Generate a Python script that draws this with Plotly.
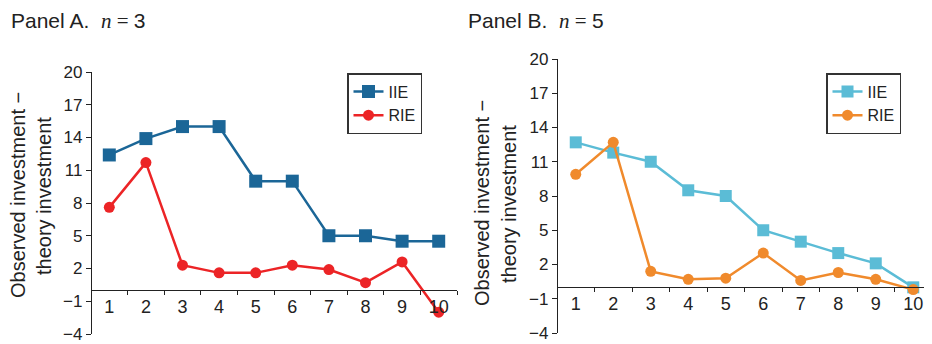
import plotly.graph_objects as go

rounds = [1, 2, 3, 4, 5, 6, 7, 8, 9, 10]

a_iie = [12.4, 13.9, 15.0, 15.0, 10.0, 10.0, 5.0, 5.0, 4.5, 4.5]
a_rie = [7.6, 11.7, 2.3, 1.6, 1.6, 2.3, 1.9, 0.7, 2.6, -2.0]
b_iie = [12.7, 11.8, 11.0, 8.5, 8.0, 5.0, 4.0, 3.0, 2.1, 0.0]
b_rie = [9.9, 12.7, 1.4, 0.7, 0.8, 3.0, 0.6, 1.3, 0.7, -0.2]

y_ticks = [-4, -1, 2, 5, 8, 11, 14, 17, 20]
y_ticktext = ["\u22124", "\u22121", "2", "5", "8", "11", "14", "17", "20"]
x_minor = [1.5, 2.5, 3.5, 4.5, 5.5, 6.5, 7.5, 8.5, 9.5, 10.5]

# page body has an 8px margin; figure sized to fit the 932x344 window
OFF = 8
W, H = 932 - OFF, 344 - OFF
FONT = "Liberation Sans, Arial, Helvetica, sans-serif"
INK = "#222222"

def PX(p):
    return (p - OFF) / W

def PY(p):
    return 1 - (p - OFF) / H

c_a_iie = "#1b6697"
c_a_rie = "#ec2426"
c_b_iie = "#5bbcd6"
c_b_rie = "#f08a2c"

fig = go.Figure()

def add(x, y, name, color, symbol, size, xa, ya, legend):
    fig.add_trace(go.Scatter(
        x=x, y=y, name=name, mode="lines+markers",
        line=dict(color=color, width=2.5),
        marker=dict(color=color, symbol=symbol, size=size),
        xaxis=xa, yaxis=ya, legend=legend, cliponaxis=False,
    ))

add(rounds, a_iie, "IIE", c_a_iie, "square", 13, "x", "y", "legend")
add(rounds, a_rie, "RIE", c_a_rie, "circle", 11, "x", "y", "legend")
add(rounds, b_iie, "IIE", c_b_iie, "square", 12, "x2", "y2", "legend2")
add(rounds, b_rie, "RIE", c_b_rie, "circle", 11, "x2", "y2", "legend2")

# domains (reference pixel based)
ya_dom = [PY(334), PY(72)]
yb_dom = [PY(333), PY(59)]
xa_dom = [PX(91), PX(457)]
xb_dom = [PX(557), 1.0]
yr = [-4, 20]
frac0 = (0 - yr[0]) / (yr[1] - yr[0])

def yaxis(dom, xpos):
    return dict(
        domain=dom, range=yr, anchor="free", position=xpos, automargin=False,
        tickmode="array", tickvals=y_ticks, ticktext=y_ticktext,
        ticks="outside", ticklen=5, tickwidth=1.2, tickcolor=INK,
        showline=True, linecolor=INK, linewidth=1.3,
        showgrid=False, zeroline=False, ticklabeloverflow="allow",
        tickfont=dict(size=17, color=INK, family=FONT),
    )

def xaxis(dom, ydom):
    return dict(
        domain=dom, range=[0.5, 10.5], anchor="free", automargin=False,
        position=ydom[0] + (ydom[1] - ydom[0]) * frac0,
        tickmode="array", tickvals=rounds,
        ticks="", ticklabeloverflow="allow",
        minor=dict(tickmode="array", tickvals=x_minor, ticks="outside",
                   ticklen=4, tickwidth=1.2, tickcolor=INK, showgrid=False),
        showline=True, linecolor=INK, linewidth=1.3,
        showgrid=False, zeroline=False,
        tickfont=dict(size=18, color=INK, family=FONT),
    )

legend_common = dict(
    bgcolor="white", bordercolor="#333333", borderwidth=1.5,
    font=dict(size=16, color=INK, family=FONT),
    itemwidth=30, tracegroupgap=0, xanchor="left", yanchor="top",
)

fig.update_layout(
    width=W, height=H,
    margin=dict(l=0, r=0, t=0, b=0, autoexpand=False),
    paper_bgcolor="white", plot_bgcolor="white",
    font=dict(family=FONT, color=INK),
    showlegend=True,
    xaxis=xaxis(xa_dom, ya_dom),
    yaxis=yaxis(ya_dom, xa_dom[0]),
    xaxis2=xaxis(xb_dom, yb_dom),
    yaxis2=yaxis(yb_dom, xb_dom[0]),
    legend=dict(x=PX(347), y=PY(73), **legend_common),
    legend2=dict(x=PX(826), y=PY(73), **legend_common),
)

def title(x_px, text):
    fig.add_annotation(
        x=PX(x_px), y=PY(21), xref="paper", yref="paper",
        xanchor="left", yanchor="middle", showarrow=False,
        text=text, font=dict(size=21, color=INK, family=FONT),
    )

title(9, "Panel A.  <span style='font-family:Liberation Serif'><i>n</i> = </span>3")
title(466, "Panel B.  <span style='font-family:Liberation Serif'><i>n</i> = </span>5")

def ytitle(x_px, y_px, text):
    fig.add_annotation(
        x=PX(x_px), y=PY(y_px), xref="paper", yref="paper",
        xanchor="center", yanchor="middle", showarrow=False, textangle=-90,
        text=text, font=dict(size=20, color=INK, family=FONT),
    )

ytitle(18, 195, "Observed investment \u2212")
ytitle(44, 196, "theory investment")
ytitle(482, 203, "Observed investment \u2212")
ytitle(509, 204, "theory investment")

fig.write_html("out.html")
